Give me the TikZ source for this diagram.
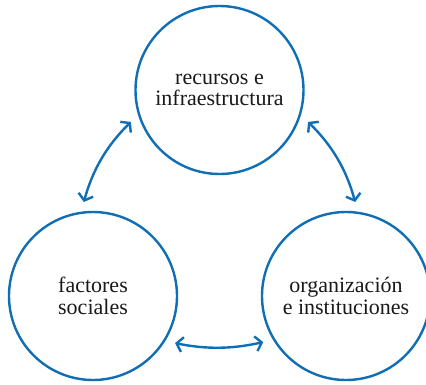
\documentclass[tikz,border=0pt]{standalone}
\usepackage{fontspec}
\setmainfont{Liberation Serif}
\usetikzlibrary{arrows.meta}
\definecolor{ringblue}{RGB}{16,110,180}
\tikzset{
  ring/.style={circle, draw=ringblue, line width=2.4pt, minimum size=168pt, inner sep=0pt,
    align=center, font=\fontsize{22}{21.5}\selectfont, text=black!90},
  link/.style={ringblue, line width=2.4pt, {Straight Barb[length=6pt,width=15pt]}-{Straight Barb[length=6pt,width=15pt]},
    shorten <=10pt, shorten >=10pt}
}
\begin{document}
\begin{tikzpicture}[x=1pt, y=1pt]
  \useasboundingbox (0,0) rectangle (426,384);
  % the three circles
  \node[ring] (recursos) at (219.5,294) {recursos e\\infraestructura};
  \node[ring] (factores) at (93,88) {factores\\sociales};
  \node[ring] (organiz) at (346,88) {organizaci\'on\\e instituciones};
  % arrows between them
  \draw[link] (recursos.197) to[bend right=15] (factores.98);
  \draw[link] (recursos.343) to[bend left=15] (organiz.82);
  \draw[link] (factores.328) to[bend right=12] (organiz.211);
\end{tikzpicture}
\end{document}
